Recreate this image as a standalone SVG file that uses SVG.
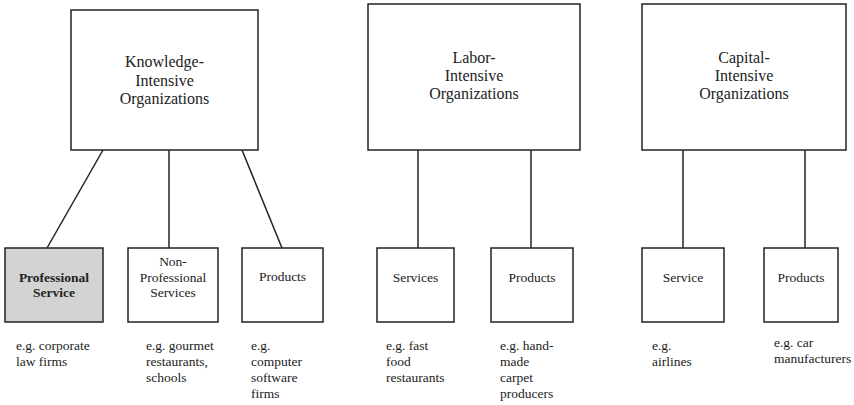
<svg xmlns="http://www.w3.org/2000/svg" width="854" height="405" viewBox="0 0 854 405">
<rect width="854" height="405" fill="#fff"/>
<g id="connectors" stroke="#222" stroke-width="1.5" fill="none">
<line x1="103" y1="150" x2="47" y2="248"/>
<line x1="169" y1="150" x2="169" y2="248"/>
<line x1="242" y1="150" x2="282" y2="248"/>
<line x1="418" y1="150" x2="418" y2="248"/>
<line x1="531" y1="150" x2="531" y2="248"/>
<line x1="683" y1="150" x2="683" y2="248"/>
<line x1="805" y1="150" x2="805" y2="248"/>
</g>
<g id="knowledge">
<rect x="71" y="10" width="187" height="140" fill="#fff" stroke="#222" stroke-width="1.5"/>
<text style="font-family:'Liberation Serif',serif !important" font-size="16" fill="#222" text-anchor="middle" x="164.5" y="67">Knowledge-</text>
<text style="font-family:'Liberation Serif',serif !important" font-size="16" fill="#222" text-anchor="middle" x="164.5" y="86">Intensive</text>
<text style="font-family:'Liberation Serif',serif !important" font-size="16" fill="#222" text-anchor="middle" x="164.5" y="104">Organizations</text>
</g>
<g id="labor">
<rect x="368" y="4" width="212" height="146" fill="#fff" stroke="#222" stroke-width="1.5"/>
<text style="font-family:'Liberation Serif',serif !important" font-size="16" fill="#222" text-anchor="middle" x="474" y="63">Labor-</text>
<text style="font-family:'Liberation Serif',serif !important" font-size="16" fill="#222" text-anchor="middle" x="474" y="81">Intensive</text>
<text style="font-family:'Liberation Serif',serif !important" font-size="16" fill="#222" text-anchor="middle" x="474" y="99">Organizations</text>
</g>
<g id="capital">
<rect x="642" y="4" width="204" height="146" fill="#fff" stroke="#222" stroke-width="1.5"/>
<text style="font-family:'Liberation Serif',serif !important" font-size="16" fill="#222" text-anchor="middle" x="744" y="63">Capital-</text>
<text style="font-family:'Liberation Serif',serif !important" font-size="16" fill="#222" text-anchor="middle" x="744" y="81">Intensive</text>
<text style="font-family:'Liberation Serif',serif !important" font-size="16" fill="#222" text-anchor="middle" x="744" y="99">Organizations</text>
</g>
<g id="professional">
<rect x="5" y="248" width="98" height="74" fill="#d3d3d3" stroke="#222" stroke-width="1.5"/>
<text style="font-family:'Liberation Serif',serif !important" font-size="13.5" fill="#222" font-weight="bold" text-anchor="middle" x="54" y="282">Professional</text>
<text style="font-family:'Liberation Serif',serif !important" font-size="13.5" fill="#222" font-weight="bold" text-anchor="middle" x="54" y="297">Service</text>
<text style="font-family:'Liberation Serif',serif !important" font-size="13.5" fill="#222" x="16" y="350">e.g. corporate</text>
<text style="font-family:'Liberation Serif',serif !important" font-size="13.5" fill="#222" x="16" y="366">law firms</text>
</g>
<g id="nonprofessional">
<rect x="128" y="248" width="90" height="74" fill="#fff" stroke="#222" stroke-width="1.5"/>
<text style="font-family:'Liberation Serif',serif !important" font-size="13.5" fill="#222" text-anchor="middle" x="173" y="266">Non-</text>
<text style="font-family:'Liberation Serif',serif !important" font-size="13.5" fill="#222" text-anchor="middle" x="173" y="282">Professional</text>
<text style="font-family:'Liberation Serif',serif !important" font-size="13.5" fill="#222" text-anchor="middle" x="173" y="297">Services</text>
<text style="font-family:'Liberation Serif',serif !important" font-size="13.5" fill="#222" x="146" y="350">e.g. gourmet</text>
<text style="font-family:'Liberation Serif',serif !important" font-size="13.5" fill="#222" x="146" y="366">restaurants,</text>
<text style="font-family:'Liberation Serif',serif !important" font-size="13.5" fill="#222" x="146" y="382">schools</text>
</g>
<g id="products1">
<rect x="242" y="248" width="81" height="74" fill="#fff" stroke="#222" stroke-width="1.5"/>
<text style="font-family:'Liberation Serif',serif !important" font-size="13.5" fill="#222" text-anchor="middle" x="282.5" y="281">Products</text>
<text style="font-family:'Liberation Serif',serif !important" font-size="13.5" fill="#222" x="251" y="350">e.g.</text>
<text style="font-family:'Liberation Serif',serif !important" font-size="13.5" fill="#222" x="251" y="366">computer</text>
<text style="font-family:'Liberation Serif',serif !important" font-size="13.5" fill="#222" x="251" y="382">software</text>
<text style="font-family:'Liberation Serif',serif !important" font-size="13.5" fill="#222" x="251" y="398">firms</text>
</g>
<g id="services-labor">
<rect x="377" y="248" width="77" height="74" fill="#fff" stroke="#222" stroke-width="1.5"/>
<text style="font-family:'Liberation Serif',serif !important" font-size="13.5" fill="#222" text-anchor="middle" x="415.5" y="282">Services</text>
<text style="font-family:'Liberation Serif',serif !important" font-size="13.5" fill="#222" x="386" y="350">e.g. fast</text>
<text style="font-family:'Liberation Serif',serif !important" font-size="13.5" fill="#222" x="386" y="366">food</text>
<text style="font-family:'Liberation Serif',serif !important" font-size="13.5" fill="#222" x="386" y="382">restaurants</text>
</g>
<g id="products-labor">
<rect x="491" y="248" width="82" height="74" fill="#fff" stroke="#222" stroke-width="1.5"/>
<text style="font-family:'Liberation Serif',serif !important" font-size="13.5" fill="#222" text-anchor="middle" x="532" y="282">Products</text>
<text style="font-family:'Liberation Serif',serif !important" font-size="13.5" fill="#222" x="500" y="350">e.g. hand-</text>
<text style="font-family:'Liberation Serif',serif !important" font-size="13.5" fill="#222" x="500" y="366">made</text>
<text style="font-family:'Liberation Serif',serif !important" font-size="13.5" fill="#222" x="500" y="382">carpet</text>
<text style="font-family:'Liberation Serif',serif !important" font-size="13.5" fill="#222" x="500" y="398">producers</text>
</g>
<g id="service-capital">
<rect x="642" y="248" width="82" height="74" fill="#fff" stroke="#222" stroke-width="1.5"/>
<text style="font-family:'Liberation Serif',serif !important" font-size="13.5" fill="#222" text-anchor="middle" x="683" y="282">Service</text>
<text style="font-family:'Liberation Serif',serif !important" font-size="13.5" fill="#222" x="652" y="350">e.g.</text>
<text style="font-family:'Liberation Serif',serif !important" font-size="13.5" fill="#222" x="652" y="366">airlines</text>
</g>
<g id="products-capital">
<rect x="764" y="248" width="74" height="74" fill="#fff" stroke="#222" stroke-width="1.5"/>
<text style="font-family:'Liberation Serif',serif !important" font-size="13.5" fill="#222" text-anchor="middle" x="801" y="282">Products</text>
<text style="font-family:'Liberation Serif',serif !important" font-size="13.5" fill="#222" x="774" y="347">e.g. car</text>
<text style="font-family:'Liberation Serif',serif !important" font-size="13.5" fill="#222" x="774" y="363">manufacturers</text>
</g>
</svg>
